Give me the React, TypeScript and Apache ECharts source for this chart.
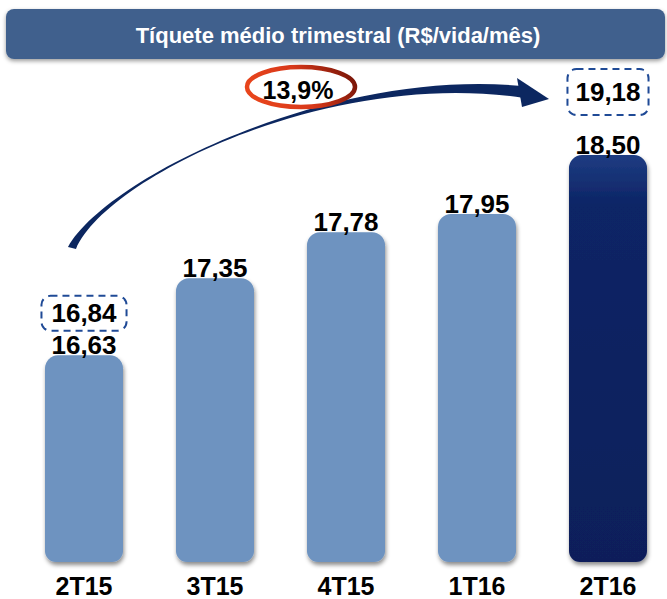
import React, { useEffect, useRef } from "react";
import * as echarts from "echarts";

const categories = ["2T15", "3T15", "4T15", "1T16", "2T16"];
const ticketValues = [16.63, 17.35, 17.78, 17.95, 18.5];
const projectedValues: (number | null)[] = [16.84, null, null, null, 19.18];
const projectedOffsets = [-42, 0, 0, 0, -63];
const growthLabel = "13,9%";
const titleText = "Tíquete médio trimestral (R$/vida/mês)";

const fmt = (v: number) => v.toFixed(2).replace(".", ",");

const ARROW_D =
  "M 68 247 C 106 178 330 68 522 86 L 524 98 C 330 68 106 178 76 249 Z";
const HEAD_D = "M 517 78 L 549 99 L 522 107 Z";

let registered = false;
function registerShapes() {
  if (registered) return;
  registered = true;
  try {
    echarts.graphic.registerShape("arrowBody", echarts.graphic.extendPath(ARROW_D, {}) as any);
    echarts.graphic.registerShape("arrowHead", echarts.graphic.extendPath(HEAD_D, {}) as any);
  } catch (e) {
    // ignore
  }
}

const FONT = "Liberation Sans, Arial, sans-serif";

export default function App() {
  const ref = useRef<HTMLDivElement>(null);
  useEffect(() => {
    if (!ref.current) return;
    registerShapes();
    const chart = echarts.init(ref.current, undefined, { renderer: "svg" });
    const lightBar = "#6E93C0";
    const darkBar = new echarts.graphic.LinearGradient(0, 0, 0, 1, [
      { offset: 0, color: "#1E3C82" },
      { offset: 0.12, color: "#0D2566" },
      { offset: 1, color: "#0A1F5A" },
    ]);
    const markData = projectedValues
      .map((v, i) =>
        v == null
          ? null
          : {
              coord: [categories[i], ticketValues[i]],
              value: v,
              label: { offset: [0, projectedOffsets[i]], padding: i === 4 ? [10, 7, 8, 7] : [4, 9, 3, 9] },
            }
      )
      .filter(Boolean);

    chart.setOption({
      animation: false,
      grid: {
        left: 18.5,
        width: 655,
        top: 48,
        bottom: 37,
        containLabel: false,
        outerBoundsMode: "none",
      },
      xAxis: {
        type: "category",
        data: categories,
        axisLine: { show: false },
        axisTick: { show: false },
        axisLabel: {
          margin: 11,
          color: "#000",
          fontSize: 25,
          fontWeight: "bold",
          fontFamily: FONT,
        },
      },
      yAxis: { type: "value", min: 14.7, max: 19.5, show: false, splitLine: { show: false } },
      series: [
        {
          type: "bar",
          barWidth: 78,
          data: ticketValues.map((v, i) => ({
            value: v,
            itemStyle: { color: i === ticketValues.length - 1 ? darkBar : lightBar },
          })),
          itemStyle: {
            borderRadius: [13, 13, 11, 11],
            shadowBlur: 4,
            shadowOffsetY: 3,
            shadowOffsetX: 1,
            shadowColor: "rgba(0,0,0,0.45)",
          },
          label: {
            show: true,
            position: "top",
            distance: 0,
            offset: [0, 3],
            formatter: (p: any) => fmt(p.value),
            color: "#000",
            fontSize: 26,
            fontWeight: "bold",
            fontFamily: FONT,
          },
          markPoint: {
            symbol: "rect",
            symbolSize: 1,
            itemStyle: { color: "rgba(0,0,0,0)" },
            label: {
              show: true,
              position: "inside",
              formatter: (p: any) => fmt(p.value),
              color: "#000",
              fontSize: 26,
              fontWeight: "bold",
              fontFamily: FONT,
              borderColor: "#1F4A96",
              borderWidth: 2,
              borderType: [7, 5],
              borderRadius: 8,
              lineHeight: 26,
              backgroundColor: "#fff",
            },
            data: markData,
          },
        },
      ],
      graphic: [
        {
          type: "rect",
          shape: { x: 6, y: 9, width: 659, height: 50, r: 8 },
          style: {
            fill: "#41618D",
            shadowBlur: 4,
            shadowOffsetY: 2,
            shadowColor: "rgba(0,0,0,0.4)",
          },
          z: 10,
        },
        {
          type: "text",
          x: 338,
          y: 35,
          style: {
            text: titleText,
            fill: "#fff",
            font: "bold 22px 'Liberation Sans', Arial, sans-serif",
            textAlign: "center",
            textVerticalAlign: "middle",
          },
          z: 11,
        },
        {
          type: "arrowBody",
          x: 0,
          y: 0,
          style: { fill: "#0C2760" },
          z: 10,
        },
        {
          type: "arrowHead",
          x: 0,
          y: 0,
          style: { fill: "#0C2760" },
          z: 10,
        },
        {
          type: "ellipse",
          shape: { cx: 301, cy: 87, rx: 54, ry: 20 },
          style: {
            fill: "#fff",
            lineWidth: 4.5,
            stroke: new echarts.graphic.LinearGradient(0, 0.5, 1, 0.3, [
              { offset: 0, color: "#E8451C" },
              { offset: 0.5, color: "#D8381A" },
              { offset: 1, color: "#7A1608" },
            ]),
          },
          z: 12,
        },
        {
          type: "text",
          x: 298,
          y: 90,
          style: {
            text: growthLabel,
            fill: "#000",
            font: "bold 25px 'Liberation Sans', Arial, sans-serif",
            textAlign: "center",
            textVerticalAlign: "middle",
          },
          z: 13,
        },
      ],
    });
    return () => chart.dispose();
  }, []);
  return (
    <div
      ref={ref}
      style={{ position: "fixed", left: 0, top: 0, width: 667, height: 599, background: "#fff" }}
    />
  );
}
